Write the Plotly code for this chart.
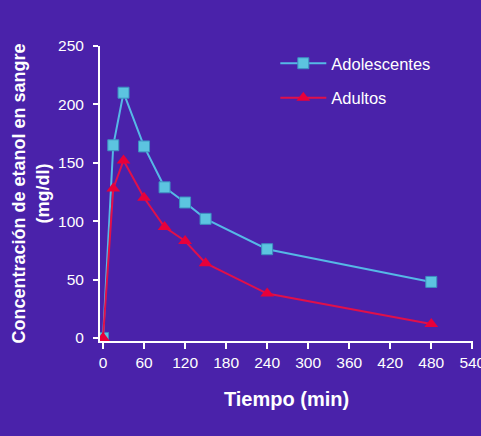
import plotly.graph_objects as go

tiempo = [0, 15, 30, 60, 90, 120, 150, 240, 480]
adolescentes = [0, 165, 210, 164, 129, 116, 102, 76, 48]
adultos = [0, 128, 152, 120, 95, 83, 64, 38, 12]

x_ticks = [0, 60, 120, 180, 240, 300, 360, 420, 480, 540]
y_ticks = [0, 50, 100, 150, 200, 250]

bg = '#4a22aa'
font_family = 'Liberation Sans, Arial, sans-serif'

fig = go.Figure()
fig.add_trace(go.Scatter(x=tiempo, y=adolescentes, name='Adolescentes', mode='lines+markers',
                         legendgroup='a',
                         line=dict(color='#56b8e6', width=2),
                         marker=dict(symbol='square', size=11, color='#5cc4e0',
                                     line=dict(color='#3c8fc0', width=1))))
fig.add_trace(go.Scatter(x=tiempo, y=adultos, name='Adultos', mode='lines+markers',
                         legendgroup='b',
                         line=dict(color='#e0104a', width=2),
                         marker=dict(symbol='triangle-up', size=12, color='#e8003a')))

fig.update_layout(
    width=481, height=436,
    paper_bgcolor=bg, plot_bgcolor=bg,
    margin=dict(l=100, r=8, t=46, b=95),
    font=dict(family=font_family, color='white', size=15.5),
    legend=dict(x=0.47, y=1.0, xanchor='left', yanchor='top', bgcolor='rgba(0,0,0,0)',
                font=dict(size=16.5, color='white'), tracegroupgap=10, itemwidth=46),
)
fig.update_xaxes(range=[-4.4, 541], tickvals=x_ticks, ticks='outside', ticklen=6, tickwidth=2,
                 tickcolor='white', showline=True, linecolor='white', linewidth=2,
                 showgrid=False, zeroline=False, ticklabeloverflow='allow', automargin=False,
                 title=dict(text='<b>Tiempo (min)</b>', font=dict(size=20), standoff=22))
fig.update_yaxes(range=[-2.6, 250], tickvals=y_ticks, ticks='outside', ticklen=5, tickwidth=2,
                 tickcolor='white', showline=True, linecolor='white', linewidth=2,
                 showgrid=False, zeroline=False, ticklabelstandoff=6,
                 title=dict(text='<b>Concentración de etanol en sangre<br>(mg/dl)</b>',
                            font=dict(size=18), standoff=4))

# drop the page margin so the chart fills the window
fig.write_html("out.html", config={'displayModeBar': False},
               post_script="document.body.style.margin='0';")
